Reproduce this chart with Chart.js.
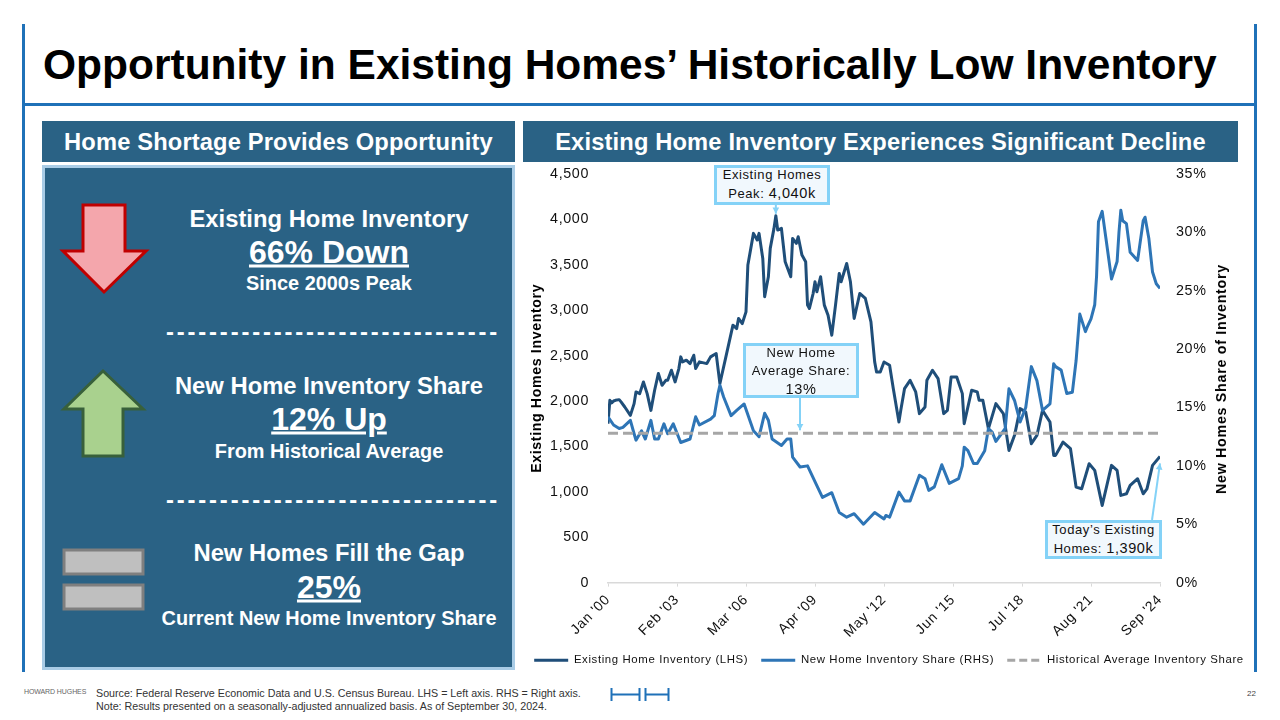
<!DOCTYPE html>
<html><head><meta charset="utf-8">
<script src="https://cdn.jsdelivr.net/npm/chart.js@4"></script>
<style>
html,body{margin:0;padding:0;background:#fff;width:1280px;height:720px;overflow:hidden;font-family:"Liberation Sans",Arial,sans-serif}
.a{position:absolute}
.hdr{background:#2A6285;color:#fff;font-weight:bold;font-size:23.7px;text-align:center;line-height:43px;top:121px;height:41px;letter-spacing:.15px}
.p{position:absolute;left:142px;width:374px;text-align:center;color:#fff;font-weight:bold;white-space:nowrap;transform:translateY(-50%)}
.l1{font-size:23.8px}.l2{font-size:32px;text-decoration:underline}.l3{font-size:19.9px}.d{font-size:23.8px;letter-spacing:2.85px;margin-left:4px}
.box{position:absolute;border:3px solid #84D2F7;background:#F1F8FD;box-sizing:border-box;text-align:center;color:#111;font-size:13px;letter-spacing:.6px;line-height:18px;white-space:nowrap}
.box span{position:relative;top:-2px;display:block}
.box b{font-weight:normal;font-size:14.5px}
</style></head><body>
<div class="a" style="left:22px;top:24px;width:3px;height:648px;background:#1F71B8"></div>
<div class="a" style="left:1254px;top:24px;width:3px;height:648px;background:#1F71B8"></div>
<div class="a" style="left:24px;top:102.5px;width:1231px;height:3px;background:#1F71B8"></div>
<div class="a" id="title" style="left:43px;top:40px;font-weight:bold;font-size:42.5px;line-height:50px;color:#000;white-space:nowrap">Opportunity in Existing Homes’ Historically Low Inventory</div>
<div class="a hdr" style="left:42px;width:473px">Home Shortage Provides Opportunity</div>
<div class="a hdr" style="left:523px;width:715px">Existing Home Inventory Experiences Significant Decline</div>
<div class="a" style="left:42px;top:165px;width:473px;height:505px;background:#2A6285;border:3px solid #A9CCE6;box-sizing:border-box"></div>
<svg class="a" style="left:42px;top:165px" width="120" height="505" viewBox="42 165 120 505">
<polygon points="83,205 125,205 125,251 146,251 104,292 63,251 83,251" fill="#F4A6AC" stroke="#C00000" stroke-width="3"/>
<polygon points="103,371 143,409 123,409 123,456 83,456 83,409 64,409" fill="#A9D18E" stroke="#38603A" stroke-width="3"/>
<rect x="64" y="550" width="79" height="24" fill="#BFBFBF" stroke="#7F7F7F" stroke-width="3"/>
<rect x="64" y="585" width="79" height="24" fill="#BFBFBF" stroke="#7F7F7F" stroke-width="3"/>
</svg>
<div class="p l1" style="top:219px">Existing Home Inventory</div>
<div class="p l2" style="top:252px">66% Down</div>
<div class="p l3" style="top:283px">Since 2000s Peak</div>
<div class="p d" style="top:332px">-------------------------------</div>
<div class="p l1" style="top:386px">New Home Inventory Share</div>
<div class="p l2" style="top:419px">12% Up</div>
<div class="p l3" style="top:451px">From Historical Average</div>
<div class="p d" style="top:500px">-------------------------------</div>
<div class="p l1" style="top:553px">New Homes Fill the Gap</div>
<div class="p l2" style="top:587px">25%</div>
<div class="p l3" style="top:618px">Current New Home Inventory Share</div>

<canvas id="c" class="a" style="left:521px;top:160px" width="736" height="516"></canvas>

<div class="box" style="left:714px;top:165px;width:116px;height:40px"><span>Existing Homes<br>Peak: <b>4,040k</b></span></div>
<div class="box" style="left:743px;top:343px;width:116px;height:55px"><span>New Home<br>Average Share:<br><b>13%</b></span></div>
<div class="box" style="left:1045px;top:520px;width:117px;height:39px"><span>Today’s Existing<br>Homes: <b>1,390k</b></span></div>
<div class="a" id="rt" style="left:1221px;top:379px;transform:translate(-50%,-50%) rotate(-90deg);font-weight:bold;font-size:14.2px;letter-spacing:.75px;white-space:nowrap;color:#000">New Homes Share of Inventory</div>

<div class="a" style="left:24px;top:688px;font-size:7px;color:#666;white-space:nowrap;letter-spacing:-.1px">HOWARD HUGHES</div>
<div class="a" style="left:96px;top:687px;font-size:10.7px;line-height:13px;color:#333;white-space:nowrap">Source: Federal Reserve Economic Data and U.S. Census Bureau. LHS = Left axis. RHS = Right axis.<br>Note: Results presented on a seasonally-adjusted annualized basis. As of September 30, 2024.</div>
<svg class="a" style="left:608px;top:685px" width="64" height="18"><path d="M3.5 3V16M3.5 9.5H31M31.5 3V16M37.5 3V16M37.5 9.5H60M60.5 3V16" fill="none" stroke="#1F71B8" stroke-width="2"/></svg>
<div class="a" style="left:1247px;top:689px;font-size:8px;color:#444">22</div>

<script>
const tickLabels = ["Jan '00","Feb '03","Mar '06","Apr '09","May '12","Jun '15","Jul '18","Aug '21","Sep '24"];
const seriesNames = ["Existing Home Inventory (LHS)","New Home Inventory Share (RHS)","Historical Average Inventory Share"];

const inventoryMonths = [0,1,2,3,4,6,7,9,12,14,15,17,19,21,23,25,27,29,31,32,34,36,38,39,40,42,44,46,47,49,53,55,58,60,61,63,65,67,69,70,72,74,75,78,80,81,83,84,86,87,89,90,91,93,95,98,99,101,102,104,106,107,108,110,111,112,114,116,118,120,122,124,125,128,130,132,135,138,141,143,144,146,148,151,153,156,157,159,162,165,167,170,171,174,177,180,182,184,187,190,191,195,198,199,201,204,208,212,215,218,221,224,227,230,233,237,239,240,242,244,248,251,254,258,261,265,270,273,275,278,280,284,287,289,292,296];
const inventoryValues = [1750,2008,1980,2000,2008,2015,1990,1934,1842,1971,2100,2081,2210,2081,1897,2118,2302,2173,2228,2228,2339,2210,2357,2486,2431,2449,2412,2504,2357,2431,2412,2486,2523,2192,2284,2467,2651,2835,2798,2909,2853,2982,3497,3846,3773,3846,3570,3148,3368,3681,3901,4040,3883,3901,3534,3368,3791,3736,3809,3607,3534,3056,3019,3184,3313,3203,3368,3056,2945,2725,3056,3405,3313,3515,3313,2909,3184,3129,2872,2431,2320,2320,2430,2394,2136,1769,1897,2136,2228,2100,1861,1934,2228,2339,2247,1861,1897,2265,2265,2081,1750,2118,2100,2008,2008,1695,1971,1861,1456,1622,1916,1879,1530,1622,1897,1769,1401,1401,1475,1548,1475,1052,1033,1309,1236,850,1291,1236,960,978,1070,1144,978,1033,1291,1390];

const shareMonths = [0,3,6,8,12,14,15,18,20,23,25,27,30,32,35,39,44,47,49,55,57,59,60,62,66,69,73,78,81,84,86,88,93,96,98,99,103,107,112,115,120,124,128,132,137,143,148,149,151,156,159,162,167,170,172,175,179,183,188,190,191,193,196,198,202,204,206,208,213,215,218,221,224,227,230,233,237,239,240,243,246,249,251,253,256,257,259,261,262,263,265,267,270,273,274,275,276,278,280,284,287,288,290,292,294,296];
const shareValues = [14.2,13.5,13.2,13.3,13.9,12.75,12.2,13.0,12.3,13.9,12.3,12.3,13.6,12.75,13.6,12.0,12.3,14.2,13.5,14.0,14.3,16.2,16.9,15.9,14.3,14.75,15.3,13.0,12.5,14.5,13.9,12.3,11.75,12.3,12.3,10.75,9.9,10.0,8.3,7.3,7.7,6.0,5.6,5.9,5.0,6.0,5.45,5.75,5.6,7.75,7.0,7.0,9.2,8.9,7.9,8.2,10.1,8.5,8.9,10.0,11.6,11.3,10.2,10.2,11.3,13.2,12.9,12.1,13.2,16.6,15.6,13.75,15.0,18.5,17.3,14.75,15.3,18.75,18.5,18.2,16.2,16.3,19.0,23.0,21.5,21.9,22.6,23.8,26.3,30.9,31.8,29.5,26.0,27.5,30.0,31.9,31.0,30.75,28.3,27.6,31.0,31.3,29.5,26.6,25.6,25.2];

const averageMonths = [0,296];
const averageValues = [12.8,12.8];

const toPts = (xs,ys)=>xs.map((x,i)=>({x,y:ys[i]}));
const colors = ['#1F4E79','#2E75B6','#A6A6A6'];

const calloutArrows = [
 {scale:'y', month:90, value:4040, tipOff:-2, from:{dx:0, top:204}},
 {scale:'y1', month:103, value:12.8, tipOff:-3, from:{x:800, top:397}, tipX:800},
 {scale:'y', month:296, value:1390, tipOff:7, from:{x:1152, top:520}}
];

const spacing = {
 id:'spacing',
 beforeUpdate(c){c.ctx.letterSpacing='0.62px'},
 beforeLayout(c){c.ctx.letterSpacing='0.62px'},
 beforeDraw(c){c.ctx.letterSpacing='0.62px'},
 afterDatasetsDraw(c){
  const ctx=c.ctx; ctx.save();
  ctx.strokeStyle='#84D2F7'; ctx.fillStyle='#84D2F7'; ctx.lineWidth=2;
  const ox=521, oy=160;
  for(const a of calloutArrows){
    const tx=a.tipX!==undefined? a.tipX-ox : c.scales.x.getPixelForValue(a.month);
    const ty=c.scales[a.scale].getPixelForValue(a.value)+a.tipOff;
    const fx=a.from.x!==undefined? a.from.x-ox : tx+a.from.dx;
    const fy=a.from.top-oy;
    const ang=Math.atan2(ty-fy,tx-fx);
    ctx.beginPath();ctx.moveTo(fx,fy);ctx.lineTo(tx,ty);ctx.stroke();
    ctx.beginPath();ctx.moveTo(tx,ty);
    ctx.lineTo(tx-7*Math.cos(ang-0.5),ty-7*Math.sin(ang-0.5));
    ctx.lineTo(tx-7*Math.cos(ang+0.5),ty-7*Math.sin(ang+0.5));
    ctx.closePath();ctx.fill();
  }
  ctx.restore();
 }
};

new Chart(document.getElementById('c'),{
 type:'line',
 data:{datasets:[
  {label:seriesNames[0],data:toPts(inventoryMonths,inventoryValues),yAxisID:'y',borderColor:colors[0],backgroundColor:colors[0],borderWidth:3,pointRadius:0,tension:0,order:2,borderJoinStyle:'round'},
  {label:seriesNames[1],data:toPts(shareMonths,shareValues),yAxisID:'y1',borderColor:colors[1],backgroundColor:colors[1],borderWidth:3,pointRadius:0,tension:0,order:1,borderJoinStyle:'round'},
  {label:seriesNames[2],data:toPts(averageMonths,averageValues),yAxisID:'y1',borderColor:colors[2],backgroundColor:colors[2],borderWidth:3,borderDash:[10,5],pointRadius:0,tension:0,order:0}
 ]},
 plugins:[spacing],
 options:{
  responsive:false,animation:false,
  layout:{padding:{top:14,left:0,right:0,bottom:0}},
  plugins:{
   tooltip:{enabled:false},
   legend:{position:'bottom',labels:{
     color:'#111',font:{family:'"Liberation Sans"',size:11.4},boxWidth:34,boxHeight:0,padding:13,
     generateLabels(){return seriesNames.map((t,i)=>({text:t,fillStyle:colors[i],strokeStyle:colors[i],lineWidth:3,lineDash:i==2?[8,4]:[],fontColor:'#111',datasetIndex:i,hidden:false}))}
   }}
  },
  scales:{
   x:{type:'linear',min:0,max:296,
     grid:{drawOnChartArea:false,drawTicks:true,tickLength:4,color:'#D9D9D9'},
     border:{color:'#D9D9D9',width:1.5},
     ticks:{stepSize:37,autoSkip:false,maxRotation:45,minRotation:45,padding:5,color:'#111',font:{family:'"Liberation Sans"',size:14},
       callback:v=>tickLabels[v/37]},
     afterFit(s){s.height=59}
   },
   y:{position:'left',min:0,max:4500,
     grid:{display:false},border:{display:false},
     ticks:{stepSize:500,padding:11,color:'#111',font:{family:'"Liberation Sans"',size:14.3},callback:v=>v.toLocaleString('en-US')},
     title:{display:true,text:'Existing Homes Inventory',color:'#000',font:{family:'"Liberation Sans"',size:14.2,weight:'bold'},padding:{top:8,bottom:0}},
     afterFit(s){s.width=87;s.paddingTop=0;s.paddingBottom=0}
   },
   y1:{position:'right',min:0,max:35,
     grid:{display:false},border:{display:false},
     ticks:{stepSize:5,padding:8,color:'#111',font:{family:'"Liberation Sans"',size:14.3},callback:v=>v+'%'},
     afterFit(s){s.width=97;s.paddingTop=0;s.paddingBottom=0}
   }
  }
 }
});
</script>
</body></html>
